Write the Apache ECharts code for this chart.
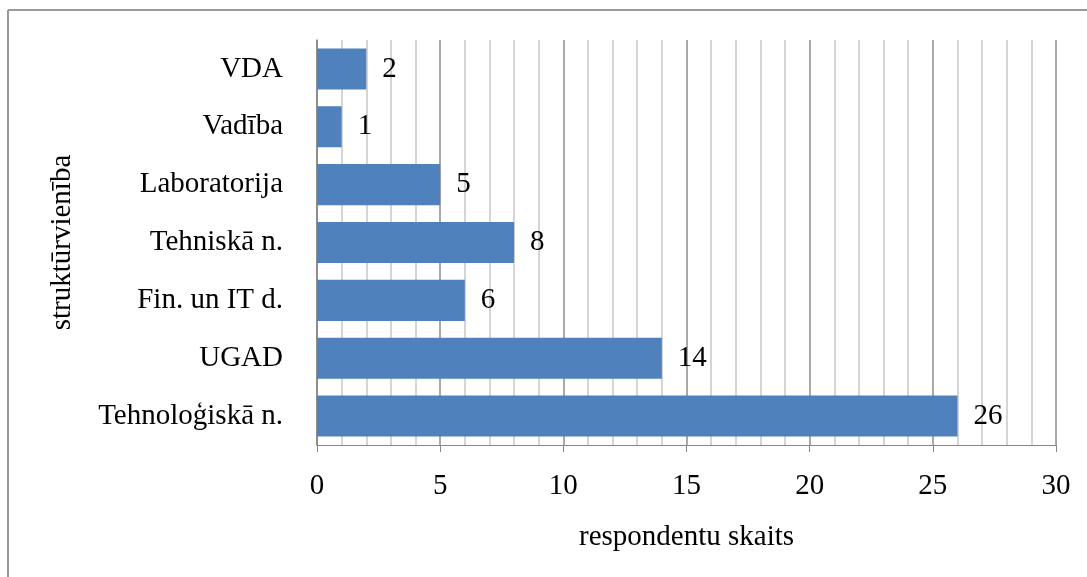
<!DOCTYPE html>
<html>
<head>
<meta charset="utf-8">
<script src="https://cdn.jsdelivr.net/npm/echarts@6/dist/echarts.min.js"></script>
<style>
html,body{margin:0;padding:0;background:#fff;}
#c{width:1087px;height:577px;}
</style>
</head>
<body>
<div id="c"></div>
<script>
const categories = ['Tehnoloģiskā n.', 'UGAD', 'Fin. un IT d.', 'Tehniskā n.', 'Laboratorija', 'Vadība', 'VDA'];
const values = [26, 14, 6, 8, 5, 1, 2];
const xMin = 0, xMax = 30, xStep = 5;
const xTitle = 'respondentu skaits';
const yTitle = 'struktūrvienība';

const FONT = '"Liberation Serif", "Times New Roman", serif';
const FS = 29;
const chart = echarts.init(document.getElementById('c'));
chart.setOption({
  animation: false,
  backgroundColor: '#fff',
  textStyle: { fontFamily: FONT },
  graphic: [
    { type: 'line', shape: { x1: 8, y1: 10, x2: 1087, y2: 10 }, style: { stroke: '#999', lineWidth: 2 } },
    { type: 'line', shape: { x1: 8, y1: 10, x2: 8, y2: 577 }, style: { stroke: '#999', lineWidth: 2 } }
  ],
  grid: { left: 317, right: 31, top: 40, bottom: 132 },
  xAxis: {
    type: 'value', min: xMin, max: xMax, interval: xStep,
    name: xTitle, nameLocation: 'middle', nameGap: 78,
    nameTextStyle: { fontFamily: FONT, fontSize: FS, color: '#000' },
    axisLine: { show: true, lineStyle: { color: '#868686', width: 1 } },
    axisTick: { show: true, length: 7, lineStyle: { color: '#868686' } },
    axisLabel: { fontFamily: FONT, fontSize: FS, color: '#000', margin: 27 },
    splitLine: { show: true, lineStyle: { color: '#8c8c8c', width: 1.5 } },
    minorTick: { show: false, splitNumber: 5 },
    minorSplitLine: { show: true, lineStyle: { color: '#c8c8c8', width: 1.5 } }
  },
  yAxis: {
    type: 'category', data: categories,
    name: yTitle, nameLocation: 'middle', nameGap: 240, nameRotate: 90,
    nameTextStyle: { fontFamily: FONT, fontSize: FS, color: '#000' },
    axisLine: { show: true, lineStyle: { color: '#868686', width: 1.5 } },
    axisTick: { show: false },
    axisLabel: { fontFamily: FONT, fontSize: FS, color: '#000', margin: 34 },
    splitLine: { show: false }
  },
  series: [{
    type: 'bar', data: values, barWidth: '71%',
    itemStyle: { color: '#4f81bd' },
    label: { show: true, position: 'right', distance: 16, fontFamily: FONT, fontSize: FS, color: '#000' }
  }]
});
</script>
</body>
</html>
